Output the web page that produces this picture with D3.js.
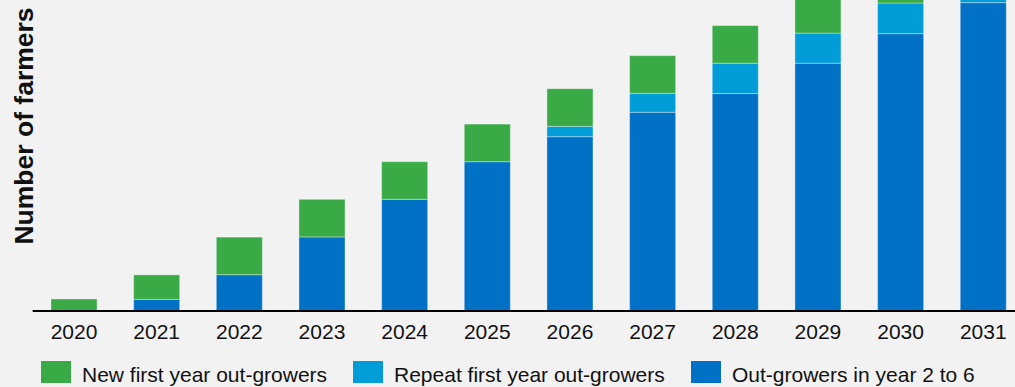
<!DOCTYPE html>
<html>
<head>
<meta charset="utf-8">
<script src="https://cdn.jsdelivr.net/npm/d3@7"></script>
<style>
  html, body { margin: 0; padding: 0; background: #F2F2F2; }
  svg { display: block; font-family: "Liberation Sans", Arial, sans-serif; }
</style>
</head>
<body>
<svg id="chart" width="1015" height="387"></svg>
<script>
// ---- data (number of farmers) ----
const years = ["2020","2021","2022","2023","2024","2025","2026","2027","2028","2029","2030","2031"];
const outGrowersYear2to6 = [0, 310, 965, 1970, 2970, 3970, 4635, 5285, 5785, 6590, 7375, 8200];
const repeatFirstYear    = [0, 0, 0, 0, 0, 0, 275, 505, 805, 800, 815, 820];
const newFirstYear       = [320, 650, 1000, 1000, 1000, 1000, 1000, 1000, 1000, 1000, 1000, 1000];
const seriesNames = ["Out-growers in year 2 to 6", "Repeat first year out-growers", "New first year out-growers"];
const legendOrder = ["New first year out-growers", "Repeat first year out-growers", "Out-growers in year 2 to 6"];
const yTitle = "Number of farmers";

const colors = {
  "New first year out-growers": "#39AA46",
  "Repeat first year out-growers": "#009DD8",
  "Out-growers in year 2 to 6": "#0071C4"
};

const rows = years.map((y, i) => ({
  year: y,
  "Out-growers in year 2 to 6": outGrowersYear2to6[i],
  "Repeat first year out-growers": repeatFirstYear[i],
  "New first year out-growers": newFirstYear[i]
}));

const svg = d3.select("#chart");
const W = 1015;
const baseY = 311;
const step = 82.66;
const x0 = 74 - step / 2;

const x = d3.scaleBand()
  .domain(years)
  .range([x0, x0 + step * years.length])
  .paddingInner(0.443)
  .paddingOuter(0.2215);

const y = d3.scaleLinear()
  .domain([0, 8270])
  .range([baseY, 0]);

const stack = d3.stack().keys(seriesNames);
const stacked = stack(rows);

svg.append("g")
  .selectAll("g")
  .data(stacked)
  .join("g")
  .attr("fill", d => colors[d.key])
  .selectAll("rect")
  .data(d => d.filter(s => s[1] - s[0] > 0))
  .join("rect")
  .attr("x", d => x(d.data.year))
  .attr("width", x.bandwidth())
  .attr("y", d => y(d[1]))
  .attr("height", d => y(d[0]) - y(d[1]))
  .attr("stroke", "rgba(255,255,255,0.35)")
  .attr("stroke-width", 1);

// x axis
const xAxis = svg.append("g")
  .attr("transform", `translate(0,${baseY})`)
  .call(d3.axisBottom(x).tickSize(0).tickPadding(0));
xAxis.select(".domain")
  .attr("d", `M${x0},0H${W}`)
  .attr("stroke", "#000")
  .attr("stroke-width", 2);
xAxis.selectAll(".tick text")
  .attr("y", 28)
  .attr("dy", null)
  .attr("font-size", 21)
  .attr("font-family", "Liberation Sans, Arial, sans-serif")
  .attr("fill", "#111");

// y title
svg.append("text")
  .attr("transform", "translate(33,126) rotate(-90)")
  .attr("text-anchor", "middle")
  .attr("font-size", 26.5)
  .attr("font-weight", "bold")
  .attr("fill", "#111")
  .text(yTitle);

// legend
const legendX = [41, 353, 691];
const leg = svg.append("g")
  .selectAll("g")
  .data(legendOrder)
  .join("g")
  .attr("transform", (d, i) => `translate(${legendX[i]},361)`);
leg.append("rect")
  .attr("width", 30)
  .attr("height", 22)
  .attr("fill", d => colors[d]);
leg.append("text")
  .attr("x", 41)
  .attr("y", 21)
  .attr("font-size", 21)
  .attr("fill", "#111")
  .text(d => d);
</script>
</body>
</html>
